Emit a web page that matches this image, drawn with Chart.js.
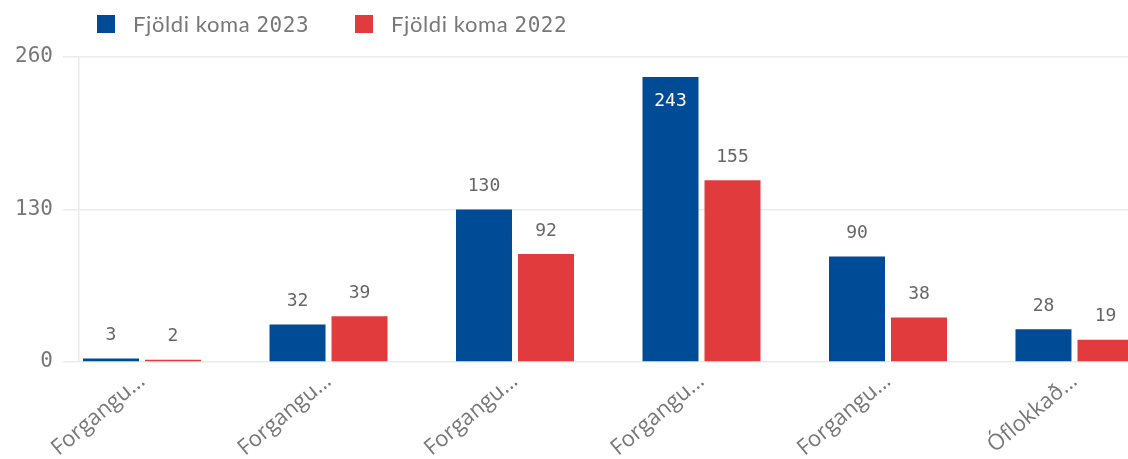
<!DOCTYPE html>
<html>
<head>
<meta charset="utf-8">
<script src="https://cdn.jsdelivr.net/npm/chart.js@4/dist/chart.umd.min.js"></script>
<style>
  body { margin: 0; background: #fff; }
  #wrap { position: relative; width: 1128px; height: 459px; overflow: hidden; }
  #legend { position: absolute; top: 10px; left: 97px; display: flex; font-family: Lato, sans-serif; font-size: 22px; letter-spacing: 0.6px; color: #777; }
  #legend .item { display: flex; align-items: center; margin-right: 46px; }
  #legend .box { width: 18px; height: 18px; margin-right: 18px; }
  #legend .num { font-family: 'DejaVu Sans Mono', monospace; font-size: 21px; letter-spacing: 0.5px; }
</style>
</head>
<body>
<div id="wrap">
  <div id="legend"></div>
  <canvas id="chart1" width="1128" height="459"></canvas>
</div>
<script>
// gögn
const categories = ["Forgangu...", "Forgangu...", "Forgangu...", "Forgangu...", "Forgangu...", "Óflokkað..."];
const koma2023 = [3, 32, 130, 243, 90, 28];
const koma2022 = [2, 39, 92, 155, 38, 19];
const yTicks = [0, 130, 260];
const seriesNames = ["Fjöldi koma 2023", "Fjöldi koma 2022"];
const colors = ["#004b96", "#e13b3d"];

const numFont = "'DejaVu Sans Mono', monospace";

// legend sem html, ártal í jafnbreiðu letri
const legend = document.getElementById("legend");
seriesNames.forEach((name, i) => {
  const parts = name.split(" ");
  const year = parts.pop();
  const item = document.createElement("div");
  item.className = "item";
  item.innerHTML = '<span class="box" style="background:' + colors[i] + '"></span><span>' + parts.join(" ") +
    '&nbsp;<span class="num">' + year + '</span></span>';
  legend.appendChild(item);
});

// tölur ofan á súlum
const valueLabels = {
  id: "valueLabels",
  afterDatasetsDraw(chart) {
    const ctx = chart.ctx;
    const top = chart.chartArea.top;
    ctx.save();
    ctx.font = "18px " + numFont;
    ctx.textAlign = "center";
    ctx.textBaseline = "middle";
    chart.data.datasets.forEach((ds, di) => {
      chart.getDatasetMeta(di).data.forEach((bar, i) => {
        const v = ds.data[i].y;
        let y = bar.y - 23;
        ctx.fillStyle = "#666";
        if (y < top + 8) {
          y = bar.y + 24;
          ctx.fillStyle = "#fff";
        }
        ctx.fillText(String(v), bar.x, y);
      });
    });
    ctx.restore();
  }
};

let ctx1 = document.getElementById("chart1").getContext("2d");
let chart1 = new Chart(ctx1, {
  type: "bar",
  data: {
    datasets: [
      {
        label: seriesNames[0],
        backgroundColor: colors[0],
        data: koma2023.map((v, i) => ({ x: i, y: v })),
      },
      {
        label: seriesNames[1],
        backgroundColor: colors[1],
        data: koma2022.map((v, i) => ({ x: i, y: v })),
      },
    ],
  },
  options: {
    responsive: false,
    animation: false,
    categoryPercentage: 0.665,
    barPercentage: 0.903,
    layout: { padding: { top: 57, left: 0, right: 0, bottom: 0 } },
    plugins: {
      legend: { display: false },
      tooltip: { enabled: false },
    },
    scales: {
      x: {
        type: "linear",
        offset: false,
        min: -0.338,
        max: 5.287,
        grid: { display: false, offset: false, drawTicks: false },
        border: { display: false },
        afterFit(scale) { scale.height = 97; },
        ticks: {
          stepSize: 1,
          includeBounds: false,
          autoSkip: false,
          maxRotation: 40,
          minRotation: 40,
          padding: 6,
          color: "#777",
          font: { family: "Open Sans", size: 22 },
          callback: (v) => (Number.isInteger(v) && categories[v] !== undefined ? categories[v] : ""),
        },
      },
      y: {
        min: 0,
        max: 260,
        afterFit(scale) { scale.width = 79; },
        afterBuildTicks(scale) { scale.ticks = yTicks.map((v) => ({ value: v })); },
        grid: { color: "#ebebeb", tickLength: 16, lineWidth: 1.5 },
        border: { display: true, color: "#ebebeb", width: 1.5 },
        ticks: {
          padding: 10,
          color: "#777",
          font: { family: "DejaVu Sans Mono", size: 21 },
        },
      },
    },
  },
  plugins: [valueLabels],
});
</script>
</body>
</html>
